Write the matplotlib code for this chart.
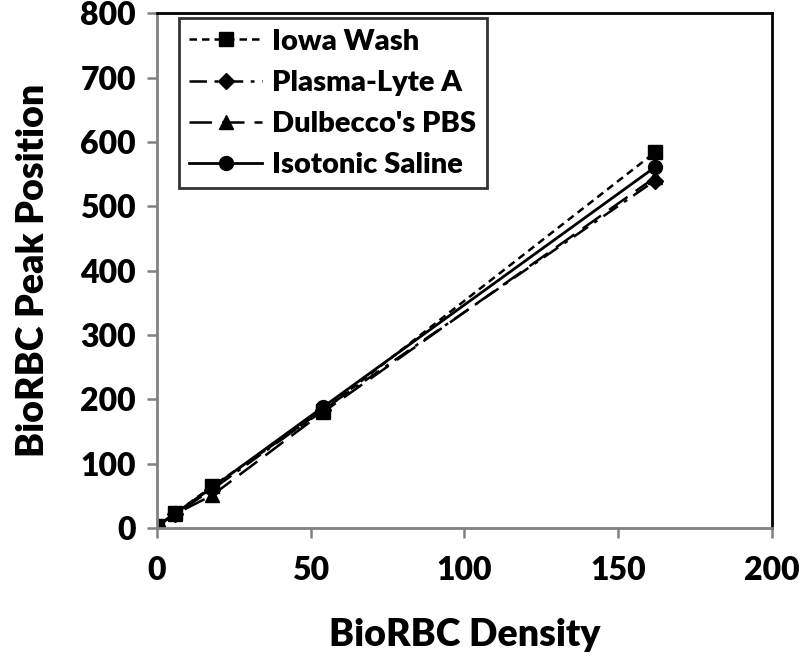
import numpy as np
from matplotlib import pyplot as plt

plt.rcParams['font.family'] = ['Lato', 'DejaVu Sans']
plt.rcParams['font.weight'] = 'bold'

density = [0, 6, 18, 54, 162]
iowa_wash = [3, 23, 65, 182, 584]
plasma_lyte = [3, 22, 60, 184, 540]
dulbecco = [3, 22, 51, 180, 545]
saline = [3, 23, 63, 188, 561]

fig = plt.figure(figsize=(8, 6.61), dpi=100)
ax = fig.add_axes([0.196, 0.201, 0.769, 0.779])

ax.plot(density, iowa_wash, color='black', lw=1.8, linestyle=(0, (3, 2)),
        marker='s', ms=10, label='Iowa Wash')
ax.plot(density, plasma_lyte, color='black', lw=1.8, linestyle=(0, (7, 3, 1.5, 3)),
        marker='D', ms=8, label='Plasma-Lyte A')
ax.plot(density, dulbecco, color='black', lw=1.8, linestyle=(0, (9, 4)),
        marker='^', ms=10, label="Dulbecco's PBS")
ax.plot(density, saline, color='black', lw=2, linestyle='-',
        marker='o', ms=10, label='Isotonic Saline')

ax.set_xlim(0, 200)
ax.set_ylim(0, 800)
ax.set_xticks([0, 50, 100, 150, 200])
ax.set_yticks(range(0, 801, 100))
ax.tick_params(direction='out', length=7, width=1.8, color='#808080',
               labelsize=23)
ax.tick_params(axis='y', pad=8)
ax.tick_params(axis='x', pad=13)
for lab in ax.get_xticklabels() + ax.get_yticklabels():
    lab.set_fontweight('heavy')

for side in ['left', 'bottom']:
    ax.spines[side].set_color('#808080')
    ax.spines[side].set_linewidth(2)
for side in ['top', 'right']:
    ax.spines[side].set_color('black')
    ax.spines[side].set_linewidth(2)

ax.set_xlabel('BioRBC Density', fontsize=27, fontweight='heavy', labelpad=24)
ax.set_ylabel('BioRBC Peak Position', fontsize=27, fontweight='heavy', labelpad=22)

leg = ax.legend(loc='upper left', bbox_to_anchor=(0.036, 0.99), fontsize=21,
                borderaxespad=0, frameon=True, fancybox=False, edgecolor='black',
                handlelength=2.5, handletextpad=0.35, borderpad=0.35,
                labelspacing=0.52)
leg.get_frame().set_linewidth(2)
for t in leg.get_texts():
    t.set_fontweight('heavy')

plt.savefig('out.png')
